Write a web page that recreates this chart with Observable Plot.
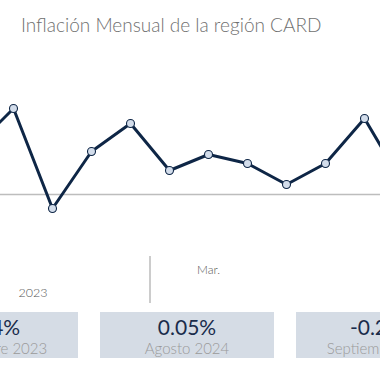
<!DOCTYPE html>
<html>
<head>
<meta charset="utf-8">
<script src="https://cdn.jsdelivr.net/npm/d3@7"></script>
<script src="https://cdn.jsdelivr.net/npm/@observablehq/plot@0.6"></script>
<style>
  html, body { margin: 0; padding: 0; background: #fff; overflow: hidden; }
  #wrap { position: relative; width: 380px; height: 380px; overflow: hidden; background: #fff; font-family: Lato, "Noto Sans", sans-serif; }
  #title { height: 44px; box-sizing: border-box; padding-left: 21px; padding-top: 14px; font-size: 19px; font-weight: 300; color: #707070; line-height: 22px; white-space: nowrap; }
  #chart svg { display: block; overflow: visible; }
  .card { position: absolute; top: 312px; width: 174px; height: 46px; background: #d5dce5; text-align: center; white-space: nowrap; }
  .card .val { position: absolute; left: -20px; right: -20px; top: 3px; font-size: 21px; color: #1a2c4c; line-height: 24px; }
  .card .lab { position: absolute; left: -20px; right: -20px; top: 27px; font-size: 15px; color: #9a9a9a; line-height: 18px; font-weight: 300; }
</style>
</head>
<body>
<div id="wrap">
  <div id="title">Inflación Mensual de la región CARD</div>
  <div id="chart"></div>
</div>
<script>
// Monthly inflation (%) by month index
const meses = [0, 1, 2, 3, 4, 5, 6, 7, 8, 9, 10, 11];
const inflacion = [0.235, 0.43, -0.07, 0.215, 0.355, 0.12, 0.20, 0.155, 0.05, 0.155, 0.38, 0.05];

// Axis labels
const etiquetasMes = [{pos: 6, texto: "Mar."}];
const etiquetasAnio = [{pos: 1.5, texto: "2023"}];
const separadoresAnio = [4.5];

// KPI cards
const tarjetaValores = ["0.34%", "0.05%", "-0.21%"];
const tarjetaEtiquetas = ["Septiembre 2023", "Agosto 2024", "Septiembre 2024"];

const data = meses.map((m, k) => ({i: m, v: inflacion[k]}));

const plot = Plot.plot({
  width: 380,
  height: 266,
  marginLeft: 0,
  marginRight: 0,
  marginTop: 0,
  marginBottom: 54,
  style: {fontFamily: "Lato, 'Noto Sans', sans-serif", background: "transparent", overflow: "visible"},
  x: {type: "linear", domain: [1, 10], range: [13, 364], axis: null},
  y: {domain: [-0.3, 0.5], range: [210, 50], axis: null},
  marks: [
    Plot.ruleY([0], {stroke: "#bdbdbd", strokeWidth: 1.6}),
    Plot.line(data, {x: "i", y: "v", stroke: "#0e2646", strokeWidth: 3, strokeLinejoin: "miter"}),
    Plot.dot(data, {x: "i", y: "v", r: 4, fill: "#d3ddeb", stroke: "#0e2646", strokeWidth: 1.1}),
    Plot.axisX(separadoresAnio, {anchor: "bottom", tickSize: 47, tickFormat: () => "", stroke: "#aaaaaa", strokeWidth: 1.2}),
    Plot.text(etiquetasMes, {x: "pos", text: "texto", frameAnchor: "bottom", dy: 17, fontSize: 12, fontWeight: 300, fill: "#555"}),
    Plot.text(etiquetasAnio, {x: "pos", text: "texto", frameAnchor: "bottom", dy: 40, fontSize: 12.5, fontWeight: 300, fill: "#555"})
  ]
});
document.getElementById("chart").appendChild(plot);

const lefts = [-96, 100, 296];
const wrap = document.getElementById("wrap");
tarjetaValores.forEach((val, k) => {
  const c = document.createElement("div");
  c.className = "card";
  c.style.left = lefts[k] + "px";
  const a = document.createElement("div"); a.className = "val"; a.textContent = val;
  const b = document.createElement("div"); b.className = "lab"; b.textContent = tarjetaEtiquetas[k];
  c.appendChild(a); c.appendChild(b);
  wrap.appendChild(c);
});
</script>
</body>
</html>
